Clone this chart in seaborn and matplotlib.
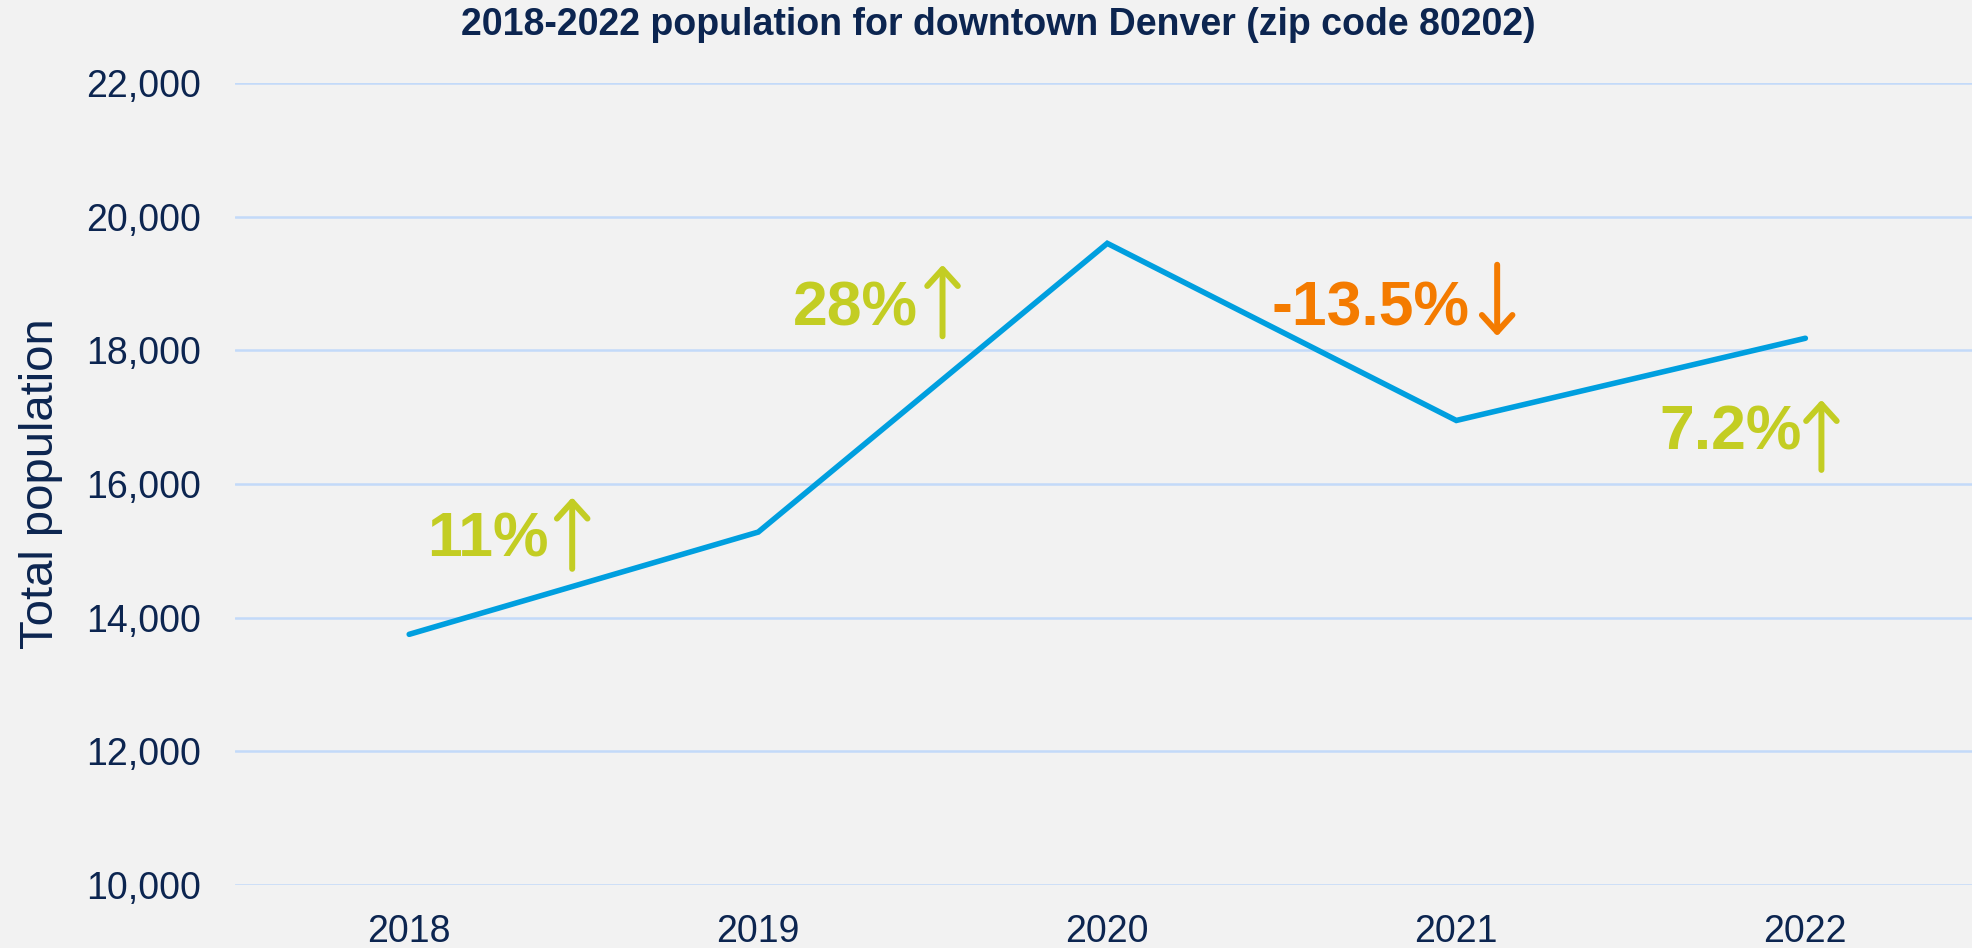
import matplotlib
matplotlib.use("Agg")
import matplotlib.pyplot as plt
import pandas as pd
import seaborn as sns
from matplotlib.ticker import FuncFormatter

# data
years = ["2018", "2019", "2020", "2021", "2022"]
population = [13750, 15280, 19600, 16950, 18180]

# year-over-year change labels
change_labels = ["11%", "28%", "-13.5%", "7.2%"]
change_up = [True, True, False, True]
label_x = [0.40, 1.457, 3.037, 3.989]
label_y = [14910, 18370, 18370, 16510]
arrow_x = [0.467, 1.528, 3.117, 4.046]
arrow_low = [14730, 18210, 18210, 16210]
arrow_high = [15800, 19280, 19280, 17260]

NAVY = "#0c2550"
BLUE = "#009fdf"
GREEN = "#c3cd23"
ORANGE = "#f47b00"
BG = "#f2f2f2"
GRID = "#c3daf9"

sns.set_style("white")
plt.rcParams["font.family"] = ["Liberation Sans", "DejaVu Sans"]

df = pd.DataFrame({"year": years, "population": population})

fig = plt.figure(figsize=(19.72, 9.48), dpi=100, facecolor=BG)
ax = fig.add_axes([0.119, 0.0665, 0.885, 0.846])
ax.set_facecolor(BG)

sns.lineplot(data=df, x="year", y="population", color=BLUE, linewidth=4,
             ax=ax, sort=False, solid_capstyle="round", solid_joinstyle="miter")

ax.set_xlim(-0.5, 4.5)
ax.set_ylim(10000, 22000)
ax.set_yticks(range(10000, 22001, 2000))
ax.yaxis.set_major_formatter(FuncFormatter(lambda v, p: f"{int(v):,}"))
ax.grid(axis="y", color=GRID, linewidth=1.8)
ax.grid(axis="x", visible=False)
ax.set_axisbelow(True)
for s in ax.spines.values():
    s.set_visible(False)
ax.tick_params(axis="y", length=0, pad=24, labelsize=27, labelcolor=NAVY)
ax.tick_params(axis="x", length=0, pad=21, labelsize=27, labelcolor=NAVY)
ax.set_xlabel("")
ax.set_ylabel("Total population", fontsize=34, color=NAVY, labelpad=17)

fig.text(0.506, 0.974, "2018-2022 population for downtown Denver (zip code 80202)",
         ha="center", va="center", fontsize=27, fontweight="bold", color=NAVY)

for lab, up, tx, ty, axx, lo, hi in zip(change_labels, change_up, label_x, label_y,
                                        arrow_x, arrow_low, arrow_high):
    col = GREEN if up else ORANGE
    ax.text(tx, ty, lab, ha="right", va="baseline", fontsize=45,
            fontweight="bold", color=col)
    start, end = (lo, hi) if up else (hi, lo)
    ax.annotate("", xy=(axx, end), xytext=(axx, start),
                arrowprops=dict(arrowstyle="->,head_length=0.55,head_width=0.5",
                                lw=4.3, color=col, shrinkA=0, shrinkB=0,
                                mutation_scale=22, capstyle="round",
                                joinstyle="round"))

fig.savefig("out.png", dpi=100, facecolor=BG)
